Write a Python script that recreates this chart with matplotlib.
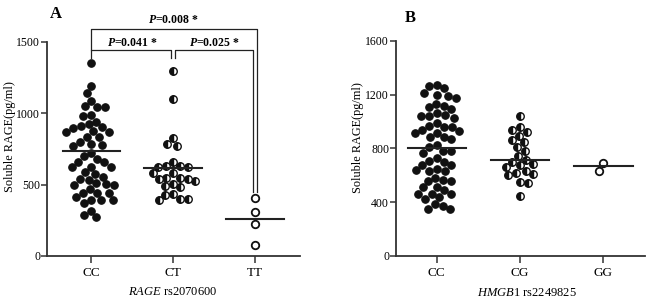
import numpy as np
import matplotlib
matplotlib.use("Agg")
import matplotlib.pyplot as plt

plt.rcParams['font.family'] = ['Liberation Serif', 'DejaVu Serif']
plt.rcParams['mathtext.fontset'] = 'custom'
plt.rcParams['mathtext.rm'] = 'Liberation Serif'
plt.rcParams['mathtext.it'] = 'Liberation Serif:italic'
plt.rcParams['mathtext.bf'] = 'Liberation Serif:bold'
plt.rcParams['mathtext.bfit'] = 'Liberation Serif:italic:bold'

# ---------------- data ----------------
a_categories = ["CC", "CT", "TT"]
a_cc = [1352, 1193, 1141, 1083, 1048, 1043, 1041, 989, 982, 942, 926, 912, 902, 898,
        874, 867, 867, 837, 837, 802, 780, 785, 773, 720, 703, 677, 661, 661, 626, 626,
        621, 588, 572, 556, 539, 532, 509, 502, 497, 495, 471, 443, 445, 443, 373, 391,
        396, 415, 391, 316, 284, 270]
a_ct = [1294, 1099, 825, 771, 785, 661, 621, 630, 621, 630, 583, 537, 579, 527, 543,
        550, 550, 485, 490, 508, 427, 403, 391, 434, 403]
a_tt = [410, 305, 223, 75]
a_lines = [738, 614, 262]
a_yticks = [0, 500, 1000, 1500]
a_pvalues = ["0.041", "0.025", "0.008"]

b_categories = ["CC", "CG", "GG"]
b_cc = [1263, 1246, 1271, 1214, 1194, 1172, 1189, 1129, 1107, 1090, 1115, 1028, 1048,
        1040, 1040, 1060, 931, 956, 936, 912, 956, 966, 986, 886, 869, 916, 882, 825,
        807, 782, 763, 782, 708, 676, 701, 730, 676, 639, 646, 632, 632, 560, 557, 565,
        582, 510, 510, 490, 458, 458, 461, 441, 421, 372, 386, 349, 349]
b_cg = [1040, 956, 940, 924, 892, 862, 845, 812, 780, 741, 716, 701, 686, 676, 662,
        632, 620, 612, 600, 552, 545, 446]
b_gg = [689, 634]
b_lines = [805, 713, 669]
b_yticks = [0, 400, 800, 1200, 1600]

FIG_W, FIG_H, DPI = 6.5, 3.02, 100
fig = plt.figure(figsize=(FIG_W, FIG_H), dpi=DPI)

axA = fig.add_axes([47/650, 46/302, 253/650, 214/302])
axB = fig.add_axes([396/650, 46/302, 249/650, 215.3/302])


def swarm(vals, x_px_per_unit, y_px_per_unit, d=7.9, f=0.9):
    vals = np.asarray(vals, float)
    order = np.argsort(vals)[::-1]
    placed = []
    xs = np.zeros(len(vals))
    for i in order:
        y = vals[i] * y_px_per_unit * f
        cands = [0.0]
        for (px, py) in placed:
            dy = y - py
            if abs(dy) < d:
                dx = np.sqrt(d * d - dy * dy)
                cands += [px + dx, px - dx]
        cands = sorted(cands, key=lambda c: (abs(c), c))
        for c in cands:
            ok = all((c - px) ** 2 + (y - py) ** 2 >= d * d - 1e-6 for px, py in placed)
            if ok:
                xs[i] = c
                placed.append((c, y))
                break
    return xs / x_px_per_unit


def style_axis(ax, ymax, yticks, cats, xlim):
    ax.set_xlim(*xlim)
    ax.set_ylim(0, ymax)
    for s in ["top", "right"]:
        ax.spines[s].set_visible(False)
    for s in ["left", "bottom"]:
        ax.spines[s].set_linewidth(1.3)
        ax.spines[s].set_color("#333333")
    ax.set_yticks(yticks)
    ax.set_xticks(range(len(cats)))
    ax.set_xticklabels(cats, fontsize=9.5)
    ax.tick_params(axis="y", length=4, width=1.1, pad=1, labelsize=8.5, colors="#333333",
                   labelcolor="black")
    ax.tick_params(axis="x", length=5, width=1.1, pad=3, colors="#333333", labelcolor="black")


def draw_group(ax, x0, vals, kind, xppu, yppu):
    off = swarm(vals, xppu, yppu)
    xs = x0 + off
    ms = 5.4
    if kind == "full":
        ax.plot(xs, vals, "o", ms=ms, mfc="#111111", mec="#111111", mew=0.8, clip_on=False)
    elif kind == "half":
        ax.plot(xs, vals, "o", ms=ms, fillstyle="left", mfc="#111111", mfcalt="white",
                mec="#111111", mew=1.0, clip_on=False)
    else:
        ax.plot(xs, vals, "o", ms=ms, mfc="white", mec="#111111", mew=1.3, clip_on=False)


# ---------- Panel A ----------
xlimA = (-0.54, 2.55)
style_axis(axA, 1500, a_yticks, a_categories, xlimA)
xppuA = 253 / (xlimA[1] - xlimA[0])
yppuA = 214 / 1500
kinds = ["full", "half", "open"]
for i, vals in enumerate([a_cc, a_ct, a_tt]):
    draw_group(axA, i, vals, kinds[i], xppuA, yppuA)
for i, v in enumerate(a_lines):
    axA.plot([i - 0.35, i + 0.35], [v, v], color="#222222", lw=1.5, zorder=3)

axA.set_ylabel("Soluble RAGE(pg/ml)", fontsize=8.8)
axA.yaxis.set_label_coords(-0.146, 0.56)
axA.yaxis.label.set_va("center")
axA.set_xlabel(r"$\mathit{RAGE}$ rs2070600", fontsize=9)
axA.xaxis.set_label_coords(0.498, -0.168)
axA.xaxis.label.set_va("center")

# significance brackets
bk = dict(color="#222222", lw=0.9, clip_on=False)
y_low, y_high = 1446, 1592
leg_end = 1390
axA.plot([0, 0, 0.97, 0.97], [leg_end, y_low, y_low, leg_end], **bk)
axA.plot([1.02, 1.02, 1.98, 1.98], [leg_end, y_low, y_low, 450], **bk)
axA.plot([0, 0, 2.02, 2.02], [y_low, y_high, y_high, 450], **bk)
tk = dict(fontsize=8.5, fontweight="bold", ha="center", va="center", clip_on=False)
axA.text(0.5, 1490, r"$\mathbfit{P}$=" + a_pvalues[0] + " *", **tk)
axA.text(1.5, 1490, r"$\mathbfit{P}$=" + a_pvalues[1] + " *", **tk)
axA.text(1.0, 1652, r"$\mathbfit{P}$=" + a_pvalues[2] + " *", **tk)
fig.text(56/650, 1 - 14/302, "A", fontsize=12, fontweight="bold", ha="center", va="center")

# ---------- Panel B ----------
xlimB = (-0.49, 2.5)
style_axis(axB, 1600, b_yticks, b_categories, xlimB)
xppuB = 249 / (xlimB[1] - xlimB[0])
yppuB = 215.3 / 1600
for i, vals in enumerate([b_cc, b_cg, b_gg]):
    draw_group(axB, i, vals, kinds[i], xppuB, yppuB)
for i, v in enumerate(b_lines):
    axB.plot([i - 0.35, i + 0.35], [v, v], color="#222222", lw=1.5, zorder=3)

axB.set_ylabel("Soluble RAGE(pg/ml)", fontsize=8.8)
axB.yaxis.set_label_coords(-0.153, 0.548)
axB.yaxis.label.set_va("center")
axB.set_xlabel(r"$\mathit{HMGB1}$ rs2249825", fontsize=9)
axB.xaxis.set_label_coords(0.526, -0.172)
axB.xaxis.label.set_va("center")
fig.text(410/650, 1 - 18/302, "B", fontsize=12, fontweight="bold", ha="center", va="center")

fig.savefig("out.png", dpi=DPI)
